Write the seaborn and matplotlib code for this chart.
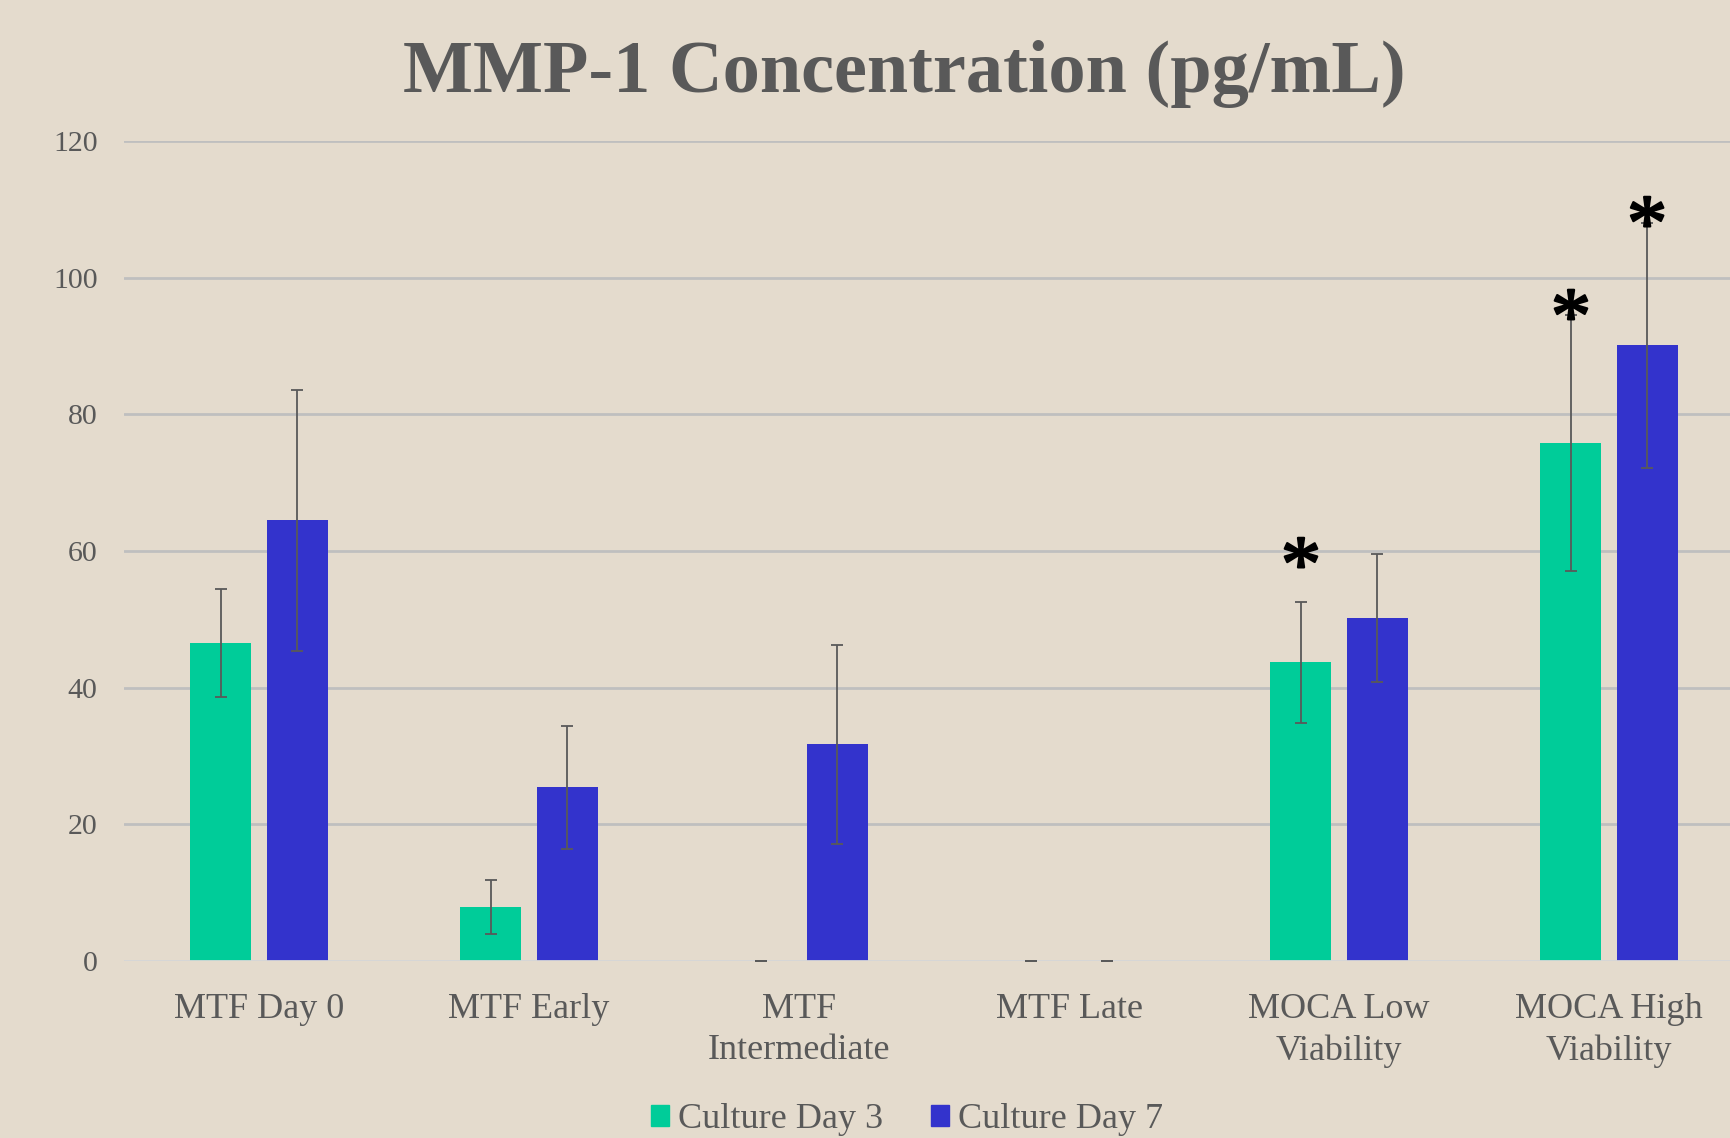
import pandas as pd
import numpy as np
import matplotlib
matplotlib.use("Agg")
import matplotlib.pyplot as plt
import matplotlib.patches as mpatches
import matplotlib.patheffects as pe
import seaborn as sns

# data
groups = ["MTF Day 0", "MTF Early", "MTF\nIntermediate", "MTF Late",
          "MOCA Low\nViability", "MOCA High\nViability"]
series = ["Culture Day 3", "Culture Day 7"]
day3_mean = [46.6, 7.9, 0.0, 0.0, 43.7, 75.8]
day3_err = [7.9, 3.9, 0.0, 0.0, 8.9, 18.7]
day7_mean = [64.5, 25.4, 31.7, 0.0, 50.2, 90.1]
day7_err = [19.1, 9.0, 14.6, 0.0, 9.4, 17.9]
# significance stars: (group index, series index, y value)
stars = [(4, 0, 59.7), (5, 0, 96.0), (5, 1, 109.6)]

colors = ["#00CC99", "#3333CC"]
bg = "#E4DBCD"
txt = "#595959"

df = pd.DataFrame({
    "group": groups * 2,
    "series": [series[0]] * len(groups) + [series[1]] * len(groups),
    "value": day3_mean + day7_mean,
})

sns.set_theme(style="white")
plt.rcParams['font.family'] = ['Liberation Serif', 'DejaVu Serif']

fig = plt.figure(figsize=(17.3, 11.38), dpi=100, facecolor=bg)
ax = fig.add_axes([124 / 1730, 1 - 961 / 1138, 1620 / 1730, 820 / 1138])
ax.set_facecolor(bg)

sns.barplot(data=df, x="group", y="value", hue="series", order=groups,
            hue_order=series, palette=colors, width=0.564, gap=0.2,
            errorbar=None, saturation=1, linewidth=0, ax=ax)

# error bars from the bar positions
errs = [day3_err, day7_err]
means = [day3_mean, day7_mean]
bar_conts = list(ax.containers)
centers = []
for k, cont in enumerate(bar_conts):
    xs = [p.get_x() + p.get_width() / 2 for p in cont.patches]
    centers.append(xs)
    ax.errorbar(xs, means[k], yerr=errs[k], fmt="none", ecolor=txt,
                elinewidth=1.3, capsize=4.3, capthick=1.3, zorder=5)

# stars sit on top of the error bar line
for gi, si, yv in stars:
    ax.annotate("*", (centers[si][gi], yv), xytext=(0, -13),
                textcoords="offset points", ha="center", va="center",
                fontsize=58, color="black", zorder=6,
                path_effects=[pe.withStroke(linewidth=1.6, foreground="black")])

ax.set_xlim(-0.5, 5.5)
ax.set_ylim(0, 120)
ax.set_yticks(range(0, 121, 20))
ax.yaxis.grid(True, color="#BFBFBF", linewidth=2)
ax.set_axisbelow(True)
for s in ax.spines.values():
    s.set_visible(False)
ax.axhline(0, color="#D9D9D9", linewidth=2, zorder=1)
ax.tick_params(axis="y", length=0, pad=19, labelsize=21.5, labelcolor=txt)
ax.tick_params(axis="x", length=0, pad=23, labelsize=26, labelcolor=txt)
for lab in ax.get_xticklabels():
    lab.set_linespacing(1.32)
ax.set_xlabel("")
ax.set_ylabel("")

ax.get_legend().remove()
handles = [mpatches.Patch(color=c) for c in colors]
ax.legend(handles, series, loc="center", bbox_to_anchor=(907 / 1730, 1 - 1120 / 1138),
          bbox_transform=fig.transFigure, ncol=2, frameon=False, fontsize=26,
          handlelength=0.5, handleheight=0.5, handletextpad=0.25,
          columnspacing=1.3, labelcolor=txt)

fig.text(904 / 1730, 1 - 74 / 1138, "MMP-1 Concentration (pg/mL)", ha="center",
         va="center", fontsize=53.5, fontweight="bold", color=txt)

fig.savefig("out.png", dpi=100, facecolor=bg)
